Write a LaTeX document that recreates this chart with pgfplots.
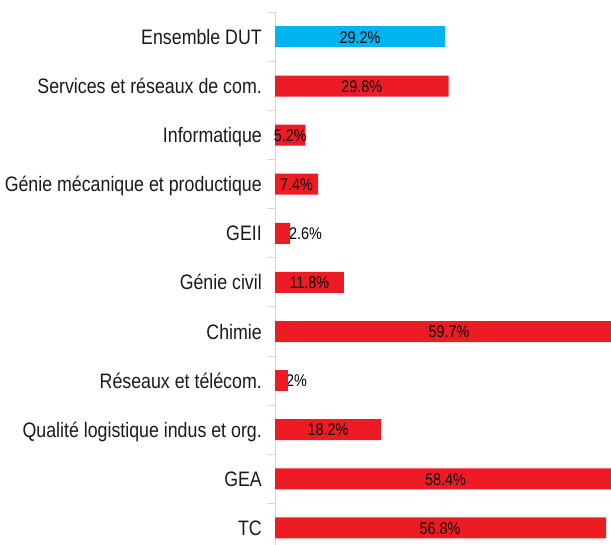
\documentclass[border=0pt]{standalone}
\usepackage{pgfplots}
\pgfplotsset{compat=1.18}
\usepackage{pgfplotstable}
\usepackage{fontspec}
\setmainfont[FakeStretch=0.85]{Liberation Sans}
\definecolor{barred}{HTML}{ED1C24}
\definecolor{barblue}{HTML}{00B4EF}
\definecolor{axgray}{HTML}{D9D9D9}
\definecolor{txt}{HTML}{1A1A1A}
\newcommand\catfont{\fontsize{21}{21}\selectfont}
\newcommand\lblfont{\fontsize{17}{17}\selectfont}

\pgfplotstableread{
y val
0 56.8
1 58.4
2 18.2
4 59.7
5 11.8
6 2.6
7 7.4
8 5.2
9 29.8
}\reddata
\pgfplotstableread{
y val
3 2.2
}\rtdata
\pgfplotstableread{
y val
10 29.2
}\bluedata
% label positions (centre of each value label, in % units)
\pgfplotstableread{
y val lx
0 56.8 28.3
1 58.4 29.25
2 18.2 9.1
3 2.2 2.66
4 59.7 29.85
5 11.8 5.9
6 2.6 5.23
7 7.4 3.7
8 5.2 2.6
9 29.8 14.9
10 29.2 14.6
}\labels

\begin{document}
\begin{tikzpicture}[x=1bp,y=1bp]
\begin{axis}[
  set layers,
  at={(275bp,-7.5bp)}, anchor=south west,
  scale only axis, width=361.46bp, height=540.1bp,
  xmin=0, xmax=62, ymin=-0.5, ymax=10.5,
  axis x line=none, axis y line*=left,
  y axis line style={draw=axgray, line width=1bp, -},
  ytick={0,...,10},
  yticklabels={TC,GEA,Qualité logistique indus et org.,Réseaux et télécom.,Chimie,Génie civil,GEII,Génie mécanique et productique,Informatique,Services et réseaux de com.,Ensemble DUT},
  minor ytick={-0.5,0.5,...,10.5},
  tick align=outside, major tick length=0pt, minor tick length=8bp,
  minor tick style={draw=axgray, line width=1bp},
  major tick style={draw=none},
  yticklabel style={font=\catfont, text=txt, anchor=base east, inner sep=0pt, xshift=-13bp, yshift=-7.5bp},
  /pgf/number format/assume math mode=true,
  bar width=21bp, bar shift=0pt,
  clip=false,
]
\addplot[xbar, fill=barred, draw=none] table[x=val, y=y] {\reddata};
\addplot[xbar, fill=barblue, draw=none] table[x=val, y=y] {\bluedata};
\addplot[only marks, mark=none, nodes near coords, point meta=explicit,
  nodes near coords={\pgfmathprintnumber[fixed,precision=1,fixed zerofill,assume math mode=true]{\pgfplotspointmeta}\%},
  every node near coord/.append style={font=\lblfont, text=black, anchor=base, inner sep=0pt, yshift=-6.2bp}]
  table[x=lx, y=y, meta=val] {\labels};
% the very short R&T bar sits over the start of its label
\addplot[xbar, fill=barred, draw=none, on layer=axis foreground] table[x=val, y=y] {\rtdata};
\end{axis}
\pgfresetboundingbox
\useasboundingbox (0,0) rectangle (611,545);
\end{tikzpicture}
\end{document}
